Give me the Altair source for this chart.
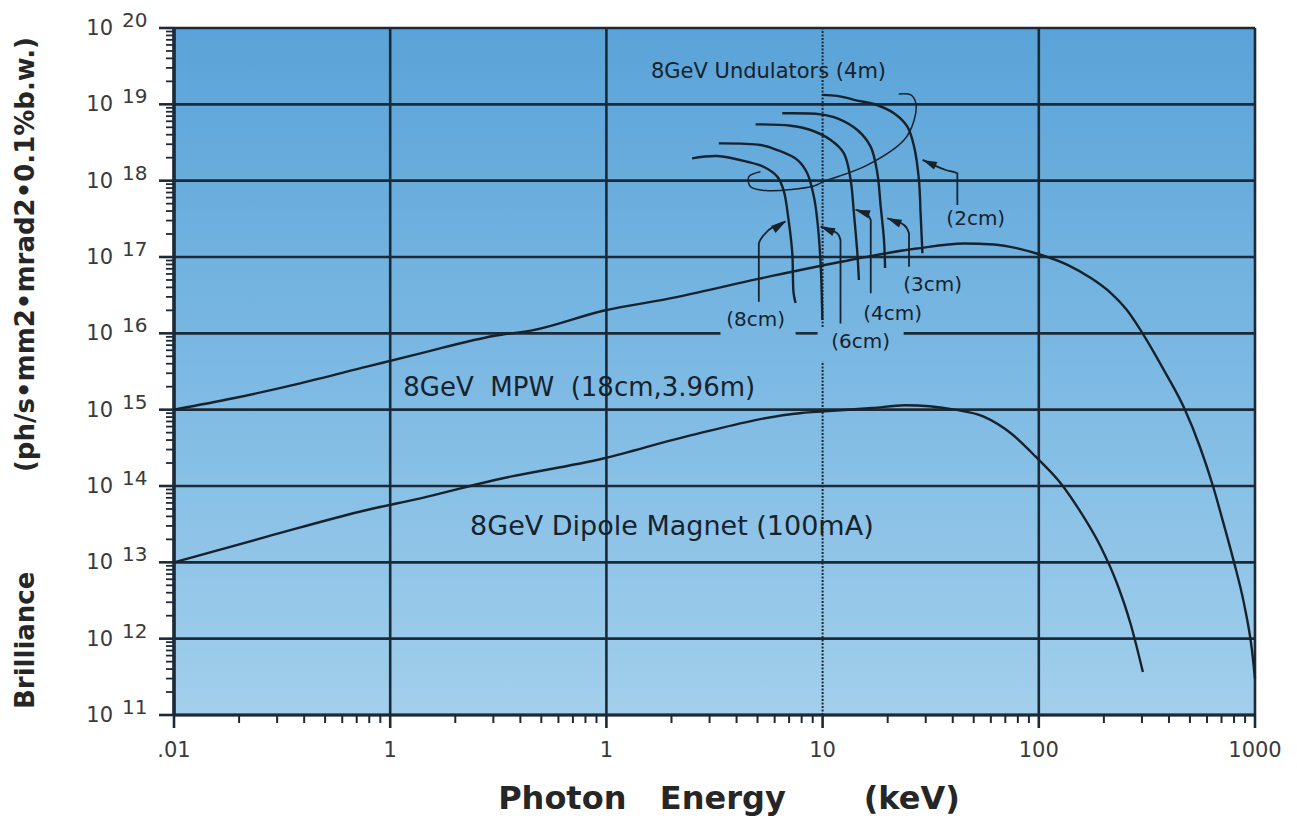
import altair as alt
import pandas as pd

W, H = 1081, 687

# ---------------- axes / grid ----------------
x_decades = [0.01, 0.1, 1, 10, 100, 1000]
x_tick_labels = [".01", "1", "1", "10", "100", "1000"]
y_decades = [1e11, 1e12, 1e13, 1e14, 1e15, 1e16, 1e17, 1e18, 1e19, 1e20]
y_exponents = ["11", "12", "13", "14", "15", "16", "17", "18", "19", "20"]
x_minor = [m * d for d in x_decades[:-1] for m in range(2, 10)]
y_minor = [m * d for d in y_decades[:-1] for m in range(2, 10)]

# horizontal grid segments (the 1e16 line is broken around the labels)
hgrid_y = [1e11, 1e12, 1e13, 1e14, 1e15, 1e16, 1e16, 1e16, 1e17, 1e18, 1e19, 1e20]
hgrid_x0 = [0.01, 0.01, 0.01, 0.01, 0.01, 0.01, 7.5, 23.7, 0.01, 0.01, 0.01, 0.01]
hgrid_x1 = [1000, 1000, 1000, 1000, 1000, 3.37, 9.48, 1000, 1000, 1000, 1000, 1000]
vgrid_solid_x = [0.01, 0.1, 1, 100, 1000]
vgrid_dot_y0 = [1e11, 1.21e16]
vgrid_dot_y1 = [4.3e15, 1e20]

# ---------------- curves ----------------
mpw_energy = [0.01, 0.0188, 0.0383, 0.078, 0.138, 0.305, 0.459, 0.977, 1.92, 5.1,
              12.0, 27.2, 45.0, 62.0, 79.7, 96.8, 135.8, 174.1, 215.4, 255.5, 302, 379,
              471, 556, 637, 715, 795, 889, 968, 1000]
mpw_brilliance = [1.0e15, 1.41e15, 2.21e15, 3.66e15, 5.47e15, 9.3e15, 1.10e16,
                  1.99e16, 2.83e16, 5.2e16, 8.6e16, 1.29e17, 1.5e17, 1.46e17, 1.30e17,
                  1.12e17, 7.9e16, 5.3e16, 3.37e16, 2.02e16, 1.0e16, 3.3e15, 1.04e15,
                  3.27e14, 1.03e14, 3.24e13, 1.07e13, 2.9e12, 7.1e11, 3.0e11]

dipole_energy = [0.01, 0.0269, 0.078, 0.138, 0.305, 0.977, 2.35, 8.0, 10.2, 17.0,
                 24.0, 40.8, 55.6, 75.0, 96.8, 126.5, 158.1, 193.6, 229.6, 266.7, 303]
dipole_brilliance = [1.0e13, 2.17e13, 4.85e13, 6.9e13, 1.2e14, 2.31e14, 4.47e14,
                     9.06e14, 9.5e14, 1.05e15, 1.14e15, 1.0e15, 8.1e14, 4.8e14, 2.42e14,
                     1.08e14, 4.3e13, 1.59e13, 5.36e12, 1.51e12, 3.66e11]

und_names = ["8cm", "6cm", "4cm", "3cm", "2cm"]
und_energy = [
    [2.49, 3.25, 4.48, 5.33, 6.17, 6.60, 6.96, 7.24, 7.34, 7.50],
    [3.31, 5.16, 6.17, 7.64, 8.49, 9.11, 9.45, 9.79, 9.97],
    [4.90, 7.11, 8.80, 10.9, 12.55, 13.48, 13.96, 14.48, 14.72],
    [6.51, 9.79, 11.7, 14.48, 16.68, 17.92, 18.57, 19.23, 19.45],
    [9.97, 11.7, 14.48, 17.28, 21.38, 24.66, 26.5, 27.9, 28.4, 28.95],
]
und_brilliance = [
    [1.96e18, 2.1e18, 1.77e18, 1.52e18, 1.13e18, 7.5e17, 3.05e17, 1.13e17, 3.4e16, 2.5e16],
    [3.08e18, 2.93e18, 2.52e18, 1.87e18, 1.25e18, 6.2e17, 3.05e17, 8.3e16, 1.5e16],
    [5.47e18, 5.25e18, 4.61e18, 3.41e18, 2.28e18, 1.02e18, 3.73e17, 1.12e17, 5.0e16],
    [7.63e18, 7.40e18, 6.56e18, 4.61e18, 2.79e18, 1.25e18, 4.56e17, 1.67e17, 7.18e16],
    [1.33e19, 1.29e19, 1.12e19, 1.01e19, 7.63e18, 5.09e18, 2.79e18, 1.02e18, 3.73e17, 1.12e17],
]

# bracket grouping the undulator curves
hook_energy = [22.5, 25.6, 27.0, 26.5, 23.8, 16.1, 10.1, 9.11, 5.55, 4.64, 4.56, 5.16]
hook_brilliance = [1.37e19, 1.33e19, 1.03e19, 6.2e18, 3.41e18, 1.60e18, 9.7e17, 8.5e17,
                   7.4e17, 8.3e17, 1.13e18, 1.31e18]

# leader lines from labels to curves (last point = arrow tip)
leader_energy = [
    [5.07, 5.07, 5.35, 6.74],
    [12.1, 12.1, 11.7, 9.79],
    [16.7, 16.7, 15.8, 14.2],
    [25.1, 25.1, 23.8, 19.9],
    [42.0, 42.0, 37.1, 29.0],
]
leader_brilliance = [
    [2.6e16, 1.51e17, 1.94e17, 2.9e17],
    [1.35e16, 1.67e17, 2.04e17, 2.49e17],
    [3.34e16, 3.05e17, 3.77e17, 4.13e17],
    [7.46e16, 2.04e17, 2.62e17, 3.21e17],
    [4.8e17, 1.25e18, 1.38e18, 1.87e18],
]
arrow_angles = [58, 292, 287, 292, 294]

und_labels = ["(8cm)", "(6cm)", "(4cm)", "(3cm)", "(2cm)"]
und_label_energy = [4.90, 15.0, 21.1, 32.3, 51.1]
und_label_brilliance = [1.5e16, 7.7e15, 1.79e16, 4.3e16, 3.15e17]

ann_texts = ["8GeV Undulators (4m)",
             "8GeV\u00a0\u00a0MPW\u00a0\u00a0(18cm,3.96m)",
             "8GeV Dipole Magnet (100mA)"]
ann_energy = [5.62, 0.115, 0.234]
ann_brilliance = [2.65e19, 1.92e15, 2.9e13]
ann_align = ["center", "left", "left"]

x_title = "Photon\u00a0\u00a0\u00a0Energy\u00a0\u00a0\u00a0\u00a0\u00a0\u00a0\u00a0(keV)"
y_title = "Brilliance" + "\u00a0" * 11 + "(ph/s\u2022mm2\u2022mrad2\u20220.1%b.w.)"

# ---------------- styles ----------------
INK = "#17222d"
GRID = "#1c2a37"
TICKTXT = "#3a3a3a"
FONT = "DejaVu Sans"

xs = alt.Scale(type="log", domain=[0.01, 1000], nice=False)
ys = alt.Scale(type="log", domain=[1e11, 1e20], nice=False)
X = alt.X("E:Q", scale=xs, axis=None)
Y = alt.Y("B:Q", scale=ys, axis=None)

bg = alt.Chart(pd.DataFrame({"k": [0]})).mark_rect(
    fill=alt.Gradient(gradient="linear",
                      stops=[alt.GradientStop(color="#5aa3d8", offset=0),
                             alt.GradientStop(color="#7cb9e3", offset=0.5),
                             alt.GradientStop(color="#a2cfec", offset=1)],
                      x1=0, x2=0, y1=0, y2=1)
).encode(x=alt.value(0), x2=alt.value(W), y=alt.value(0), y2=alt.value(H))

hgrid = alt.Chart(pd.DataFrame({"E": hgrid_x0, "E2": hgrid_x1, "B": hgrid_y})).mark_rule(
    color=GRID, strokeWidth=2.6
).encode(x=X, x2="E2:Q", y=Y)

vgrid = alt.Chart(pd.DataFrame({"E": vgrid_solid_x, "B": [1e11] * 5, "B2": [1e20] * 5})).mark_rule(
    color=GRID, strokeWidth=2.6
).encode(x=X, y=Y, y2="B2:Q")

vgrid_dot = alt.Chart(pd.DataFrame({"E": [10, 10], "B": vgrid_dot_y0, "B2": vgrid_dot_y1})).mark_rule(
    color=GRID, strokeWidth=2, strokeDash=[2, 1.5]
).encode(x=X, y=Y, y2="B2:Q")

xmaj = alt.Chart(pd.DataFrame({"E": x_decades})).mark_rule(color=GRID, strokeWidth=2.6).encode(
    x=X, y=alt.value(H), y2=alt.value(H + 13))
xmin = alt.Chart(pd.DataFrame({"E": x_minor})).mark_rule(color=GRID, strokeWidth=2).encode(
    x=X, y=alt.value(H), y2=alt.value(H + 8))
ymaj = alt.Chart(pd.DataFrame({"B": y_decades})).mark_rule(color=GRID, strokeWidth=2.6).encode(
    y=Y, x=alt.value(-15), x2=alt.value(0))
ymin = alt.Chart(pd.DataFrame({"B": y_minor})).mark_rule(color=GRID, strokeWidth=1.8).encode(
    y=Y, x=alt.value(-8), x2=alt.value(0))
yaxis_line = alt.Chart(pd.DataFrame({"k": [0]})).mark_rule(color=GRID, strokeWidth=3.5).encode(
    x=alt.value(0), y=alt.value(0), y2=alt.value(H))
xaxis_line = alt.Chart(pd.DataFrame({"k": [0]})).mark_rule(color=GRID, strokeWidth=3).encode(
    x=alt.value(0), x2=alt.value(W), y=alt.value(H))

xlab = alt.Chart(pd.DataFrame({"E": x_decades, "t": x_tick_labels})).mark_text(
    font=FONT, fontSize=21, color=TICKTXT, baseline="middle", align="center"
).encode(x=X, y=alt.value(H + 36), text="t:N")

ylab10 = alt.Chart(pd.DataFrame({"B": y_decades, "t": ["10"] * len(y_decades)})).mark_text(
    font=FONT, fontSize=21, color=TICKTXT, baseline="middle", align="right", dy=1
).encode(y=Y, x=alt.value(-61), text="t:N")
ylabexp = alt.Chart(pd.DataFrame({"B": y_decades, "t": y_exponents})).mark_text(
    font=FONT, fontSize=20, color=TICKTXT, baseline="middle", align="left", dy=-7
).encode(y=Y, x=alt.value(-52), text="t:N")

rows = []
for i, (e, b) in enumerate(zip(mpw_energy, mpw_brilliance)):
    rows.append({"s": "mpw", "i": i, "E": e, "B": b})
for i, (e, b) in enumerate(zip(dipole_energy, dipole_brilliance)):
    rows.append({"s": "dipole", "i": i, "E": e, "B": b})
main_curves = alt.Chart(pd.DataFrame(rows)).mark_line(
    color=INK, strokeWidth=2.4, interpolate="monotone"
).encode(x=X, y=Y, detail="s:N", order="i:Q")

urows = []
for n, es, bs in zip(und_names, und_energy, und_brilliance):
    for i, (e, b) in enumerate(zip(es, bs)):
        urows.append({"s": n, "i": i, "E": e, "B": b})
und_curves = alt.Chart(pd.DataFrame(urows)).mark_line(
    color=INK, strokeWidth=2.4, interpolate="catmull-rom"
).encode(x=X, y=Y, detail="s:N", order="i:Q")

hook = alt.Chart(pd.DataFrame({"i": list(range(len(hook_energy))), "E": hook_energy,
                               "B": hook_brilliance})).mark_line(
    color=INK, strokeWidth=1.5, interpolate="catmull-rom"
).encode(x=X, y=Y, order="i:Q")

lrows = []
for n, es, bs in zip(und_names, leader_energy, leader_brilliance):
    for i, (e, b) in enumerate(zip(es, bs)):
        lrows.append({"s": n, "i": i, "E": e, "B": b})
leaders = alt.Chart(pd.DataFrame(lrows)).mark_line(
    color=INK, strokeWidth=1.8, interpolate="monotone"
).encode(x=X, y=Y, detail="s:N", order="i:Q")

arrows = alt.Chart(pd.DataFrame({"E": [l[-1] for l in leader_energy],
                                 "B": [l[-1] for l in leader_brilliance],
                                 "a": arrow_angles})).mark_point(
    shape="M0,0L0.55,1.9L-0.55,1.9Z", filled=True, opacity=1, size=230, color=INK
).encode(x=X, y=Y, angle=alt.Angle("a:Q", scale=None))

ulab = alt.Chart(pd.DataFrame({"E": und_label_energy, "B": und_label_brilliance,
                               "t": und_labels})).mark_text(
    font=FONT, fontSize=20, color=INK, baseline="middle", align="center"
).encode(x=X, y=Y, text="t:N")

ann_layers = []
for t, e, b, a, fs in zip(ann_texts, ann_energy, ann_brilliance, ann_align, [21, 26, 27]):
    ann_layers.append(
        alt.Chart(pd.DataFrame({"E": [e], "B": [b], "t": [t]})).mark_text(
            font=FONT, fontSize=fs, color=INK, baseline="middle", align=a
        ).encode(x=X, y=Y, text="t:N")
    )

xtitle = alt.Chart(pd.DataFrame({"t": [x_title]})).mark_text(
    font=FONT, fontSize=32, fontWeight="bold", color="#262626", align="center",
    baseline="alphabetic"
).encode(x=alt.value(555), y=alt.value(781), text="t:N")

ytitle = alt.Chart(pd.DataFrame({"t": [y_title]})).mark_text(
    font=FONT, fontSize=26, fontWeight="bold", color="#262626", align="center",
    baseline="middle", angle=270
).encode(x=alt.value(-148), y=alt.value(345), text="t:N")

chart = alt.layer(
    bg, hgrid, vgrid, vgrid_dot, xmaj, xmin, ymaj, ymin, yaxis_line, xaxis_line,
    main_curves, und_curves, hook, leaders, arrows, ulab, *ann_layers,
    xlab, ylab10, ylabexp, xtitle, ytitle
).properties(
    width=W, height=H,
    autosize=alt.AutoSizeParams(type="none"),
    padding={"left": 166, "top": 20, "right": 30, "bottom": 104},
    background="white"
).configure_view(stroke=None)

chart.save("out.html", embed_options={"renderer": "svg", "actions": False})
